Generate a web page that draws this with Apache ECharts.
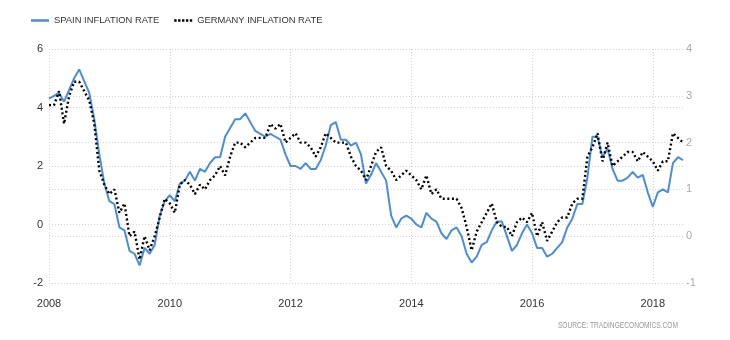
<!DOCTYPE html>
<html><head><meta charset="utf-8">
<script src="https://cdn.jsdelivr.net/npm/echarts@6/dist/echarts.min.js"></script>
<style>html,body{margin:0;padding:0;background:#fff}#c{width:730px;height:340px}</style>
</head><body><div id="c"></div>
<script>
// Monthly data, Jan 2008 .. Jul 2018
const startYear = 2008;
const monthCount = 127;
const seriesNames = ['SPAIN INFLATION RATE', 'GERMANY INFLATION RATE'];
const spainRate = [
  4.3,4.4,4.5,4.2,4.6,5.0,5.3,4.9,4.5,3.6,2.4,1.4,
  0.8,0.7,-0.1,-0.2,-0.9,-1.0,-1.4,-0.8,-1.0,-0.7,0.3,0.8,
  1.0,0.8,1.4,1.5,1.8,1.5,1.9,1.8,2.1,2.3,2.3,3.0,
  3.3,3.6,3.6,3.8,3.5,3.2,3.1,3.0,3.1,3.0,2.9,2.4,
  2.0,2.0,1.9,2.1,1.9,1.9,2.2,2.7,3.4,3.5,2.9,2.9,
  2.7,2.8,2.4,1.4,1.7,2.1,1.8,1.5,0.3,-0.1,0.2,0.3,
  0.2,0.0,-0.1,0.4,0.2,0.1,-0.3,-0.5,-0.2,-0.1,-0.4,-1.0,
  -1.3,-1.1,-0.7,-0.6,-0.2,0.1,0.1,-0.4,-0.9,-0.7,-0.3,0.0,
  -0.3,-0.8,-0.8,-1.1,-1.0,-0.8,-0.6,-0.1,0.2,0.7,0.7,1.6,
  3.0,3.0,2.3,2.6,1.9,1.5,1.5,1.6,1.8,1.6,1.7,1.1,
  0.6,1.1,1.2,1.1,2.1,2.3,2.2
];
const germanyRate = [
  2.8,2.8,3.1,2.4,3.0,3.3,3.3,3.1,2.9,2.4,1.4,1.1,
  0.9,1.0,0.5,0.7,0.0,0.1,-0.5,0.0,-0.3,0.0,0.4,0.8,
  0.7,0.5,1.1,1.2,1.1,0.9,1.1,1.0,1.2,1.3,1.5,1.3,
  1.7,2.0,2.0,1.9,2.0,2.1,2.1,2.1,2.4,2.3,2.4,2.0,
  2.1,2.2,2.0,2.0,1.9,1.7,1.9,2.2,2.1,2.0,2.0,2.0,
  1.7,1.5,1.4,1.2,1.5,1.8,1.9,1.5,1.4,1.2,1.3,1.4,
  1.3,1.2,1.0,1.3,0.9,1.0,0.8,0.8,0.8,0.8,0.6,0.2,
  -0.3,0.1,0.3,0.5,0.7,0.3,0.2,0.2,0.0,0.3,0.4,0.3,
  0.5,0.0,0.3,-0.1,0.1,0.3,0.4,0.4,0.7,0.8,0.8,1.7,
  1.9,2.2,1.6,2.0,1.5,1.6,1.7,1.8,1.8,1.6,1.8,1.7,
  1.6,1.4,1.6,1.6,2.2,2.1,2.0
];
const leftAxis = {min: -2, max: 6, interval: 2};
const rightAxis = {min: -1, max: 4, interval: 1};
const sourceText = 'SOURCE: TRADINGECONOMICS.COM';

const months = [];
for (let i = 0; i < monthCount; i++) {
  const y = startYear + Math.floor(i / 12);
  const m = (i % 12) + 1;
  months.push(y + '-' + (m < 10 ? '0' + m : m));
}

const font = 'Arial, "Liberation Sans", sans-serif';
const gridLine = {show: true, lineStyle: {color: '#d4d4d4', type: [1, 2], width: 1}};
const dottedIcon = 'path://M0 0h2.4v2.5h-2.4z M3.9 0h2.4v2.5h-2.4z M7.8 0h2.4v2.5h-2.4z M11.7 0h2.4v2.5h-2.4z M15.6 0h2.4v2.5h-2.4z';

const chart = echarts.init(document.getElementById('c'), null, {renderer: 'canvas'});
chart.setOption({
  animation: false,
  backgroundColor: '#fff',
  textStyle: {fontFamily: font},
  legend: {
    left: 26, top: 11, padding: 5,
    itemWidth: 18, itemHeight: 2.5, itemGap: 15,
    itemStyle: {borderWidth: 0},
    textStyle: {fontSize: 9.4, color: '#333', fontFamily: font},
    data: [
      {name: seriesNames[0], icon: 'rect'},
      {name: seriesNames[1], icon: dottedIcon}
    ]
  },
  grid: {left: 49, right: 47, top: 49, bottom: 57},
  xAxis: {
    type: 'category',
    data: months,
    boundaryGap: false,
    axisLine: {show: false},
    axisTick: {show: false},
    axisLabel: {
      interval: 23, margin: 15, fontSize: 11, color: '#333', fontFamily: font,
      formatter: v => v.slice(0, 4)
    },
    splitLine: Object.assign({interval: 23}, gridLine)
  },
  yAxis: [
    {
      type: 'value', position: 'left',
      min: leftAxis.min, max: leftAxis.max, interval: leftAxis.interval,
      axisLine: {show: false}, axisTick: {show: false},
      axisLabel: {margin: 6, fontSize: 11, color: '#333', fontFamily: font},
      splitLine: gridLine
    },
    {
      type: 'value', position: 'right',
      min: rightAxis.min, max: rightAxis.max, interval: rightAxis.interval,
      axisLine: {show: false}, axisTick: {show: false},
      axisLabel: {margin: 3, fontSize: 11, color: '#aaa', fontFamily: font},
      splitLine: gridLine
    }
  ],
  series: [
    {
      name: seriesNames[0], type: 'line', yAxisIndex: 0,
      data: spainRate, symbol: 'none',
      lineStyle: {color: '#4a8edb', width: 2},
      itemStyle: {color: '#4a8edb'}
    },
    {
      name: seriesNames[1], type: 'line', yAxisIndex: 1,
      data: germanyRate, symbol: 'none',
      lineStyle: {color: '#000', width: 2.4, type: [2, 2.6]},
      itemStyle: {color: '#000'}
    }
  ],
  graphic: [{
    type: 'text', right: 52, top: 321, scaleX: 0.78, originX: 0,
    style: {text: sourceText, fill: '#999', fontSize: 8.5, fontFamily: font}
  }]
});
</script>
</body></html>
